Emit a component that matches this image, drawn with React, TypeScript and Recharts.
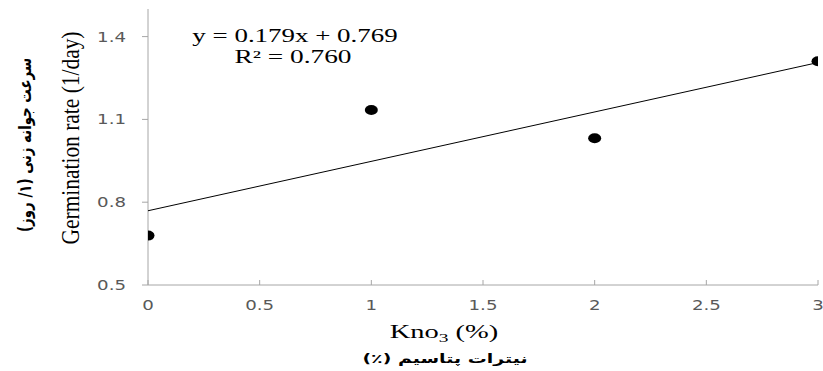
import React from 'react';
import { ScatterChart, Scatter, XAxis, YAxis, Customized } from 'recharts';

const kno3Levels = [0, 1, 2, 3];
const germinationRate = [0.679, 1.134, 1.032, 1.311];
const trendX = [0, 3];
const trendY = [0.769, 1.306];
const xTicks = [0, 0.5, 1, 1.5, 2, 2.5, 3];
const yTicks = [0.5, 0.8, 1.1, 1.4];
const equationText = 'y = 0.179x + 0.769';
const r2Text = 'R² = 0.760';
const xTitle = 'Kno';
const xTitleSub = '3';
const xTitleTail = ' (%)';
const xTitleFa = 'نیترات پتاسیم (٪)';
const yTitle = 'Germination rate (1/day)';
const yTitleFa = 'سرعت جوانه زنی (۱/ روز)';

const points = kno3Levels.map((x, i) => ({ x, y: germinationRate[i] }));
const trend = trendX.map((x, i) => ({ x, y: trendY[i] }));

const SX = 1.3;
const AXIS = '#a6a6a6';
const TICKC = '#595959';

const XTick = (props: any) => {
  const { x, y, payload } = props;
  return (
    <g transform={`translate(${x},${y}) scale(${SX},1)`}>
      <text x={0} y={0} dy="0.71em" textAnchor="middle" fontFamily="DejaVu Sans" fontSize={14} fill={TICKC}>
        {payload.value}
      </text>
    </g>
  );
};

const YTick = (props: any) => {
  const { x, y, payload } = props;
  return (
    <g transform={`translate(${x},${y}) scale(${SX},1)`}>
      <text x={0} y={0} dy="0.36em" textAnchor="end" fontFamily="DejaVu Sans" fontSize={14} fill={TICKC}>
        {payload.value}
      </text>
    </g>
  );
};

const Dot = (props: any) => {
  const { cx, cy } = props;
  if (cx == null || cy == null) return <g />;
  return <ellipse cx={cx} cy={cy} rx={6.5} ry={5} fill="#000" />;
};

const NoDot = () => <g />;

const Annotations = () => (
  <g>
    <g transform={`translate(295,42) scale(${SX},1)`}>
      <text textAnchor="middle" fontFamily="Liberation Serif" fontSize={18} fill="#000" textLength={158} lengthAdjust="spacingAndGlyphs">
        {equationText}
      </text>
    </g>
    <g transform={`translate(293,63) scale(${SX},1)`}>
      <text textAnchor="middle" fontFamily="Liberation Serif" fontSize={18} fill="#000" textLength={90} lengthAdjust="spacingAndGlyphs">
        {r2Text}
      </text>
    </g>
    <g transform={`translate(444,338) scale(1.5,1)`}>
      <text textAnchor="middle" fontFamily="Liberation Serif" fontSize={19} fill="#000">
        {xTitle}
        <tspan fontSize={13} dy={4}>{xTitleSub}</tspan>
        <tspan dy={-4}>{xTitleTail}</tspan>
      </text>
    </g>
    <g transform={`translate(445,363) scale(${SX},1)`}>
      <text textAnchor="middle" fontFamily="DejaVu Sans" fontWeight="bold" fontSize={13} fill="#000" direction="rtl" textLength={127} lengthAdjust="spacingAndGlyphs">
        {xTitleFa}
      </text>
    </g>
    <g transform={`translate(79,138) scale(${SX},1) rotate(-90)`}>
      <text textAnchor="middle" fontFamily="Liberation Serif" fontSize={19} fill="#000" textLength={213} lengthAdjust="spacingAndGlyphs">
        {yTitle}
      </text>
    </g>
    <g transform={`translate(31,145) scale(${SX},1) rotate(-90)`}>
      <text textAnchor="middle" fontFamily="DejaVu Sans" fontWeight="bold" fontSize={13} fill="#000" direction="rtl" textLength={174} lengthAdjust="spacingAndGlyphs">
        {yTitleFa}
      </text>
    </g>
  </g>
);

export default function App() {
  return (
    <div style={{ position: 'absolute', left: 0, top: 0, background: '#fff' }}>
      <ScatterChart width={823} height={371} margin={{ top: 9, right: 5, bottom: 56, left: 0 }}>
        <XAxis
          type="number"
          dataKey="x"
          domain={[0, 3]}
          ticks={xTicks}
          interval={0}
          stroke={AXIS}
          tickSize={-5}
          tickMargin={20}
          tick={<XTick />}
          height={30}
          allowDataOverflow
        />
        <YAxis
          type="number"
          dataKey="y"
          domain={[0.5, 1.5]}
          ticks={yTicks}
          interval={0}
          stroke={AXIS}
          tickSize={6}
          tickMargin={16}
          tick={<YTick />}
          width={148}
          allowDataOverflow
        />
        <Scatter
          data={trend}
          line={{ stroke: '#000', strokeWidth: 1 }}
          shape={<NoDot />}
          isAnimationActive={false}
        />
        <Scatter data={points} shape={<Dot />} isAnimationActive={false} />
        <Customized component={Annotations} />
      </ScatterChart>
    </div>
  );
}
